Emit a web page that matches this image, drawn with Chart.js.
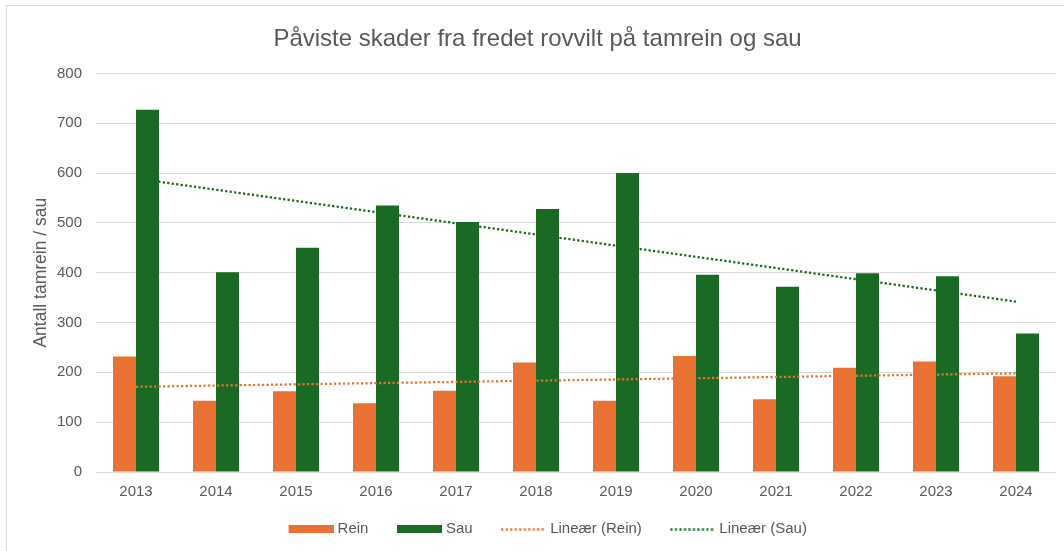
<!DOCTYPE html>
<html><head><meta charset="utf-8">
<script src="https://cdn.jsdelivr.net/npm/chart.js@4.4.1/dist/chart.umd.min.js"></script>
<style>
html,body{margin:0;padding:0;background:#fff;overflow:hidden;width:1064px;height:551px}
#frame{position:absolute;left:6px;top:5px;width:1100px;height:600px;border:1.5px solid #d9d9d9;box-sizing:border-box}
#wrap{position:absolute;left:0;top:0;width:1064px;height:551px}
</style></head><body>
<div id="frame"></div>
<div id="wrap"><canvas id="c" width="1064" height="551"></canvas></div>
<script>
// ---- data ----
const years = ['2013','2014','2015','2016','2017','2018','2019','2020','2021','2022','2023','2024'];
const rein  = [232, 143, 162, 138, 163, 220, 143, 233, 146, 209, 222, 192];
const sau   = [727, 401, 450, 535, 502, 528, 600, 396, 372, 399, 393, 278];
// linear trend lines: value at the first and at the last year
const trendRein = [171, 198];
const trendSau  = [589, 342];

const ORANGE = '#E97132', GREEN = '#196B24', TXT = '#595959', GRID = '#d9d9d9';
const FONT = "'Liberation Sans', Arial, sans-serif";
Chart.defaults.font.family = FONT;

function endpoints(t){ return years.map((y,i)=> i===0 ? t[0] : (i===years.length-1 ? t[1] : null)); }

// legend markers: visible 45px marker placed at the right end of a wider transparent image
const PSW = 62, IMGW = 69;
function boxImg(color){
  const c=document.createElement('canvas'); c.width=IMGW; c.height=8;
  const g=c.getContext('2d'); g.fillStyle=color; g.fillRect(IMGW-45,0,45,8); return c;
}
function dotImg(color){
  const c=document.createElement('canvas'); c.width=IMGW; c.height=3;
  const g=c.getContext('2d'); g.strokeStyle=color; g.lineWidth=2.25; g.setLineDash([2.25,2.25]);
  g.beginPath(); g.moveTo(IMGW-45,1.5); g.lineTo(IMGW,1.5); g.stroke(); return c;
}
const legendImgs=[boxImg(ORANGE), boxImg(GREEN), dotImg(ORANGE), dotImg(GREEN)];

new Chart(document.getElementById('c'), {
  type:'bar',
  data:{
    labels: years,
    datasets:[
      {label:'Rein', data: rein, backgroundColor: ORANGE, categoryPercentage:0.575, barPercentage:1, order:2},
      {label:'Sau', data: sau, backgroundColor: GREEN, categoryPercentage:0.575, barPercentage:1, order:2},
      {type:'line', label:'Lineær (Rein)', data: endpoints(trendRein), spanGaps:true, borderColor: ORANGE,
       borderWidth:2.25, borderDash:[2.25,2.25], pointRadius:0, fill:false, order:1},
      {type:'line', label:'Lineær (Sau)', data: endpoints(trendSau), spanGaps:true, borderColor: GREEN,
       borderWidth:2.25, borderDash:[2.25,2.25], pointRadius:0, fill:false, order:1}
    ]
  },
  options:{
    responsive:false, animation:false, devicePixelRatio:1,
    layout:{padding:{left:19,right:8,top:0,bottom:4.5}},
    plugins:{
      tooltip:{enabled:false},
      title:{display:true, text:'Påviste skader fra fredet rovvilt på tamrein og sau', color:TXT,
             font:{size:24, weight:'normal'}, padding:{top:25, bottom:19.6}},
      legend:{position:'bottom',
        labels:{usePointStyle:true, pointStyleWidth:PSW, boxHeight:8, padding:8, color:TXT, font:{size:15},
          generateLabels:(chart)=> chart.data.datasets.map((ds,i)=>({
            text: ds.label, pointStyle: legendImgs[i], fillStyle:'#fff', strokeStyle:'#fff', lineWidth:0,
            hidden: !chart.isDatasetVisible(i), datasetIndex:i, fontColor:TXT }))
        }}
    },
    scales:{
      x:{grid:{display:false, drawTicks:false}, border:{display:false},
         ticks:{padding:11, color:TXT, font:{size:15}},
         afterFit:(s)=>{ s.height=41.5; }},
      y:{min:0, max:800, grid:{color:GRID, drawTicks:false, lineWidth:1}, border:{display:false},
         ticks:{stepSize:100, padding:14, color:TXT, font:{size:15}},
         title:{display:true, text:'Antall tamrein / sau', color:TXT, font:{size:17.5}, padding:{top:12,bottom:0}},
         afterFit:(s)=>{ s.width=77; }}
    }
  }
});
</script>
</body></html>
